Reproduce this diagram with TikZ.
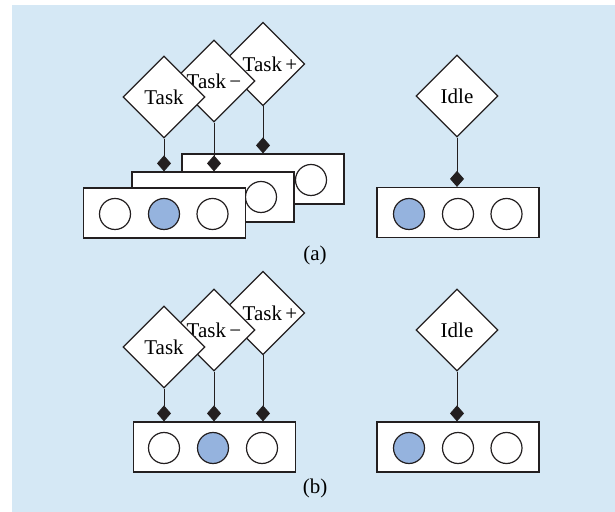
\documentclass[tikz,border=0pt]{standalone}
\usepackage{fontspec}
\setmainfont{Liberation Serif}
\usetikzlibrary{arrows.meta,shapes.geometric}
\definecolor{panel}{HTML}{D5E8F5}
\definecolor{slot}{HTML}{95B3DE}
\definecolor{ink}{HTML}{231F20}

\begin{document}
\begin{tikzpicture}[x=0.5pt,y=-0.5pt,
  st/.style={diamond,draw=ink,fill=white,line width=0.6pt,minimum size=41pt,inner sep=0pt,font=\fontsize{10.5}{12}\selectfont},
  reg/.style={rectangle,draw=ink,fill=white,line width=0.6pt,minimum width=81pt,minimum height=25pt,inner sep=0pt},
  cell/.style={circle,draw=ink,fill=white,line width=0.6pt,minimum size=15.5pt,inner sep=0pt},
  live/.style={cell,fill=slot},
  lnk/.style={-{Diamond[length=8pt,width=7pt]},draw=ink,line width=0.45pt},
  tag/.style={font=\fontsize{10.5}{12}\selectfont}]
\useasboundingbox[fill=white] (0,0) rectangle (615,512);
\fill[panel] (12,5) rectangle (615,512);

% (a) three stacked register files
\node[reg] (R3) at (263,179) {};
\node[cell] (R3c) at (311,180) {};
\node[reg] (R2) at (213,197) {};
\node[cell] (R2c) at (261,197) {};
\node[reg] (R1) at (164.5,213) {};
\foreach \x/\s [count=\i] in {115/cell,164/live,212.5/cell}
  \node[\s] (R1c\i) at (\x,214) {};
\node[st] (TkP) at (263,64) {\hspace*{7pt}Task\,+};
\node[st] (TkM) at (214,81) {Task\,−};
\node[st] (Tk) at (164,97) {Task};
\draw[lnk] (TkP.south) -- (TkP.south|-R3.north);
\draw[lnk] (TkM.south) -- (TkM.south|-R2.north);
\draw[lnk] (Tk.south) -- (Tk.south|-R2.north);

\node[reg] (Ra) at (458,212.5) {};
\foreach \x/\s [count=\i] in {409/live,458/cell,506.5/cell}
  \node[\s] (Rac\i) at (\x,214) {};
\node[st] (Ia) at (457,96) {Idle};
\draw[lnk] (Ia.south) -- (Ia.south|-Ra.north);
\node[tag] (la) at (315,255) {(a)};

% (b) one shared register file
\node[reg] (Rs) at (214.5,447) {};
\foreach \x/\s [count=\i] in {164/cell,213/live,262/cell}
  \node[\s] (Rsc\i) at (\x,448) {};
\node[st] (TbP) at (263,313) {\hspace*{7pt}Task\,+};
\node[st] (TbM) at (214,330) {Task\,−};
\node[st] (Tb) at (164,347) {Task};
\foreach \n in {TbP,TbM,Tb}
  \draw[lnk] (\n.south) -- (\n.south|-Rs.north);

\node[reg] (Rb) at (458,447) {};
\foreach \x/\s [count=\i] in {409/live,458/cell,506.5/cell}
  \node[\s] (Rbc\i) at (\x,448) {};
\node[st] (Ib) at (457,330) {Idle};
\draw[lnk] (Ib.south) -- (Ib.south|-Rb.north);
\node[tag] (lb) at (315,488) {(b)};
\end{tikzpicture}
\end{document}
